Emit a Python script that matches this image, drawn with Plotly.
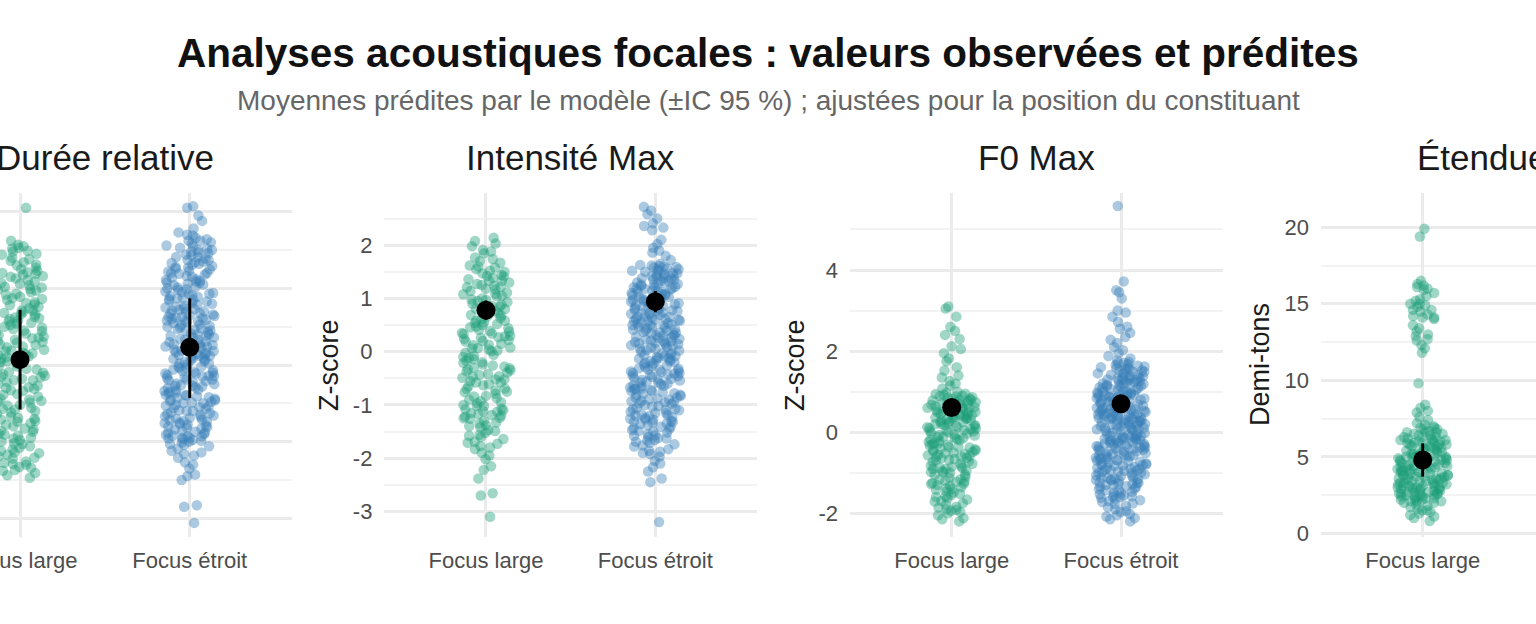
import plotly.graph_objects as go

# --- data ---
groups = ["Focus large", "Focus étroit"]
panel_titles = ["Durée relative", "Intensité Max", "F0 Max", "Étendue F0"]
y_titles = [None, "Z-score", "Z-score", "Demi-tons"]

dur_large = [0.42, -0.87, 1.21, 0.05, -1.33, 0.66, -0.18, 1.48, -0.64, 0.29, 0.93, -1.02, 0.11, -0.41, 1.57,
             0.74, -1.19, 0.36, -0.05, 1.09, -0.78, 0.52, -1.41, 0.18, 0.87, -0.29, 1.34, -0.95, 0.61, -0.12,
             1.62, -0.56, 0.24, -1.26, 0.98, 0.47, -0.71, 1.15, -0.34, 0.08, -1.47, 0.79, -0.9, 1.38, 0.33,
             -0.2, 0.69, -1.1, 1.02, -0.47, 0.14, 1.53, -0.83, 0.57, -1.37, 0.26, -0.01, 1.27, -0.6, 0.85,
             -1.15, 0.39, -0.25, 1.44, -0.98, 0.71, 0.02, -0.52, 1.18, -1.29, 0.49, -0.14, 0.95, -0.74, 1.31,
             0.2, -1.06, 0.63, -0.38, 1.06, -0.67, 0.31, 2.05, -1.22, 0.81, -0.09, 1.52, -0.44, 0.54, -0.92,
             1.25, 0.16, -1.44, 0.76, -0.31, 1.11, -0.8, 0.44, -0.02, 1.4, -1.0, 0.6, -0.57, 0.89, -1.3, 0.1,
             1.2, -0.22, 0.68, -0.7, 1.55, -1.12, 0.35, -0.49, 0.97, -0.16, -1.38,
             0.58, -0.33, 1.07, -0.91, 0.23, 1.36, -0.62, 0.04, -1.17, 0.82, 0.37, -0.45, 1.23, -0.06, -1.28,
             0.71, 0.15, -0.76, 1.45, -0.27, 0.5, -1.03, 0.92, -0.15, 0.3, -0.69, 1.16, -1.21, 0.62, -0.39,
             1.01, 0.09, -0.86, 1.3, -0.53, 0.41, -1.08, 0.78, -0.2, 0.19, -0.96, 1.13, 0.55, -0.58, 1.49,
             -0.1, -1.34, 0.86, 0.27, -0.73, 1.04, -0.3, 0.66, -1.14, 0.13, 1.19, -0.48, 0.45, -0.84, 0.99]
dur_narrow = [0.31, -0.62, 1.14, 0.02, -0.95, 0.77, -0.27, 1.52, -0.48, 0.43, 0.98, -0.81, 0.17, -0.36, 1.66,
              0.69, -1.03, 0.38, -0.08, 1.27, -0.71, 0.58, -1.21, 0.22, 0.89, -0.19, 1.41, -0.88, 0.64, -0.02,
              1.73, -0.53, 0.28, -1.12, 1.05, 0.5, -0.66, 1.19, -0.3, 0.12, -1.35, 0.83, -0.77, 1.47, 0.36,
              -0.13, 0.72, -0.99, 1.08, -0.42, 0.19, 1.59, -0.74, 0.6, -1.27, 0.25, 0.05, 1.33, -0.57, 0.91,
              -1.06, 0.46, -0.22, 1.5, -0.92, 0.75, 0.08, -0.45, 1.22, -1.16, 0.53, -0.1, 1.0, -0.68, 1.37,
              0.27, -0.96, 0.67, -0.33, 1.1, -0.59, 0.34, 1.95, -1.43, 0.85, -0.04, 1.62, -0.39, 0.56, -0.86,
              1.29, 0.14, -1.5, 0.8, -0.24, 1.16, -0.73, 0.48, 0.01, 1.44, -0.9, 0.63, -0.5, 0.94, -1.09, 0.11,
              1.25, -0.16, 0.71, -0.64, 1.56, -1.0, 0.4, -0.43, 1.02, -0.11, 2.07, 0.33, -0.79, 1.12, 0.07,
              -0.55, 0.79, -0.28, 1.39, -0.84, 0.52, -0.06, 1.7, -0.47, 0.21, -1.18, 0.96, 0.45, -0.69, 1.31,
              -0.35, 0.15, -1.83, 0.87, -0.97, 1.46, 0.3, -0.2, 0.66, -1.01, 1.06, -0.4, 0.24, 1.64, -0.76,
              0.57, -1.3, 0.18, 0.04, 1.35, -0.6, 0.93, -1.14, 0.41, -0.26, 1.53, -0.93, 0.73, 0.09, -0.52,
              2.05, -2.06, 1.88, -1.85, 1.78, -1.45, 1.2, -0.14, 0.61, -0.83,
              0.47, -0.29, 1.23, -0.7, 0.13, 0.86, -0.5, 1.48, -0.11, 0.36, -0.89, 1.04, 0.59, -0.37, 1.6,
              0.02, -0.63, 0.76, -0.17, 1.32, -0.98, 0.26, 0.95, -0.44, 1.15, -0.07, 0.51, -0.8, 1.41, 0.19,
              -0.56, 0.68, -0.25, 1.09, -0.91, 0.4, 1.55, -0.14, 0.84, -0.67, 0.1, 1.26, -0.32, 0.62, -1.04,
              0.93, 0.3, -0.46, 1.69, -0.02, 0.55, -0.75, 1.18, 0.16, -0.39, 0.99, -0.87, 0.44, 1.37, -0.21,
              0.7, -0.6, 0.06, 1.5, -0.34, 0.81, -0.95, 0.24, 1.07, -0.15, 0.63, -0.72, 1.28, 0.38, -0.49,
              0.9, -0.04, 1.62, -0.82, 0.49, 0.12, -0.27, 1.2, -0.65, 0.74, 1.43, -0.09, 0.33, -0.93, 1.01,
              0.57, -0.41, 1.34, -0.19, 0.87, -0.54, 0.2, 1.11, -0.78, 0.65]

int_large = [0.85, -1.24, 1.52, -0.33, 0.12, -1.71, 1.08, -0.79, 0.47, 1.91, -0.52, -1.38, 0.66, 1.33, -0.06,
             -1.02, 0.29, 1.74, -1.56, 0.93, -0.21, 0.54, -1.9, 1.21, -0.65, 0.02, 1.6, -1.13, 0.38, -0.44,
             2.08, -1.47, 0.77, -0.9, 1.42, 0.19, -0.28, -1.8, 1.0, -0.58, 0.61, 1.27, -1.3, -0.12, 0.44, 1.85,
             -0.97, -1.64, 0.24, 1.14, -0.39, 0.71, -1.19, 1.55, -0.73, 0.07, -2.02, 0.98, -0.49, 1.39, -1.07,
             0.33, -0.17, 1.67, -1.42, 0.58, -0.84, 1.24, -0.02, 2.14, -1.58, 0.81, -0.61, 0.15, 1.47, -1.26,
             -0.35, 0.9, -1.95, 1.11, 0.5, -0.76, 1.7, -1.1, 0.27, -0.24, 1.3, -1.52, 0.68, -0.93, 0.04, 1.98,
             -1.35, 0.41, -0.55, 1.17, -1.73, 0.86, -0.08, 1.58, -1.0, 0.35, -0.69, 1.36, -1.22, -0.3, 0.73,
             2.03, -2.15, -2.38, -2.22, -2.7, -2.66, -3.1, 0.95, -0.42, 1.05, -1.15, 0.2,
             0.39, -0.87, 1.25, -0.14, -1.49, 0.72, 0.08, -0.63, 1.62, -1.17, 0.52, -0.31, 1.04, -1.83, 0.26,
             -0.46, 1.41, -0.95, 0.63, 0.01, -1.33, 1.18, -0.7, 0.34, 1.77, -1.08, -0.2, 0.88, -1.6, 0.46,
             -0.52, 1.33, -1.25, 0.13, 0.97, -0.83, -1.69, 0.58, -0.37, 1.5, -1.02, 0.22, -0.1, 1.09, -1.4,
             0.69, -0.58, 1.88, -1.2, 0.3, -0.75, 1.22, -1.77, 0.8, -0.26, 0.06, -1.12, 1.44, -0.47, 0.55]
int_narrow = [1.12, -0.74, 0.35, -1.52, 1.48, -0.18, 0.82, -1.09, 0.05, 1.61, -0.61, -1.83, 0.57, 1.26, -0.4,
              -1.27, 0.23, 1.04, -0.92, 0.69, -0.06, 1.39, -1.66, 0.44, -0.31, 0.96, -1.18, 1.55, -0.53, 0.13,
              -1.41, 0.77, 1.19, -0.83, 0.31, -0.12, 1.33, -1.02, 0.62, -1.74, 0.9, -0.47, 1.6, -0.22, 0.17,
              -1.33, 1.08, -0.67, 0.49, -1.92, 1.43, 0.02, -0.88, 0.74, -0.36, 1.22, -1.21, 0.39, -0.58, 1.52,
              -1.47, 0.85, -0.1, 0.28, -1.06, 1.15, -0.79, 0.6, -1.6, 1.36, -0.27, 0.09, -0.97, 0.99, -0.44,
              1.65, -1.3, 0.53, -0.7, 1.28, -0.15, 0.2, -1.86, 0.8, -0.51, 1.47, -1.13, 0.37, -0.02, 1.02, -0.86,
              0.66, -1.38, 1.58, -0.34, 0.12, -1.69, 0.93, -0.63, 1.24, -1.0, 0.46, -0.2, 1.41, -1.55, 0.71,
              -0.41, 0.06, -1.24, 1.1, -0.76, 0.55, -1.78, 1.5, -0.08, 0.3, -0.95, 0.88, -0.56, 1.3, -1.44, 0.42,
              -0.26, 1.63, -1.15, 0.64, -0.69, 0.16, -1.97, 1.18, -0.38, 0.78, -1.35, 1.45, -0.13, 0.26, -0.9,
              1.06, -0.6, 0.5, -1.62, 1.37, 0.0, -1.08, 0.73, -0.46, 1.56, -1.26, 0.34, 1.72, 1.8, 1.86, 1.95,
              2.02, 2.1, 2.28, 2.33, 2.41, 2.58, 2.65, 2.72, 2.5, 2.36, 1.9, -2.05, -2.1, -2.17, -2.25, -2.45,
              -2.38, -3.2, 0.97, -0.32, 1.21, -0.81, 0.58, -1.49,
              0.41, -1.1, 1.33, -0.49, 0.16, -1.57, 0.94, -0.21, 0.65, -1.32, 1.18, -0.72, 0.03, 1.52, -0.93,
              0.32, -1.71, 0.79, -0.37, 1.27, -1.19, 0.51, -0.05, 1.06, -1.45, 0.24, -0.64, 1.42, -0.86, 0.7,
              -1.88, 0.11, 1.13, -0.54, 0.87, -1.28, 0.36, -0.16, 1.59, -1.03, 0.58, -0.78, 0.19, 1.35, -1.63,
              0.47, -0.29, 1.0, -1.15, 0.76, -0.45, 1.21, -0.98, 0.27, -1.76, 0.91, -0.12, 1.47, -0.69, 0.08,
              -1.36, 0.62, -0.33, 1.09, -1.5, 0.83, -0.58, 1.3, -0.9, 0.4, -0.03, 1.55, -1.23, 0.54, -0.81,
              1.17, -1.9, 0.21, 0.97, -0.4, 1.38, -1.07, 0.66, -0.24, 0.14, -1.41, 1.25, -0.65, 0.45, -1.67,
              0.86, -0.18, 1.62, -0.95, 0.31, -0.52, 1.03, -1.2, 0.72, -0.08, 1.44, -0.74, 0.5, -1.31, 0.18,
              1.14, -0.43, 0.6, -1.58, 0.89]

f0_large = [3.1, 3.05, 2.85, 2.6, 2.5, 2.4, 2.3, 2.12, 2.05, 1.95, 1.82, 1.75, 1.6, 1.52, 1.4, 1.35, 1.26,
            1.2, 1.15, 1.08, 0.95, -0.42, 0.31, -1.27, 0.66, -0.08, -0.85, 0.12, -1.6, 0.78, -0.3, 0.45, -1.05,
            0.02, -0.63, 0.88, -1.91, 0.22, -0.17, 0.57, -1.38, -0.52, 0.71, -0.95, 0.35, -0.24, -1.75, 0.09,
            0.83, -0.69, -1.16, 0.49, -0.36, 0.18, -2.05, 0.62, -0.78, -0.02, 0.92, -1.48, 0.27, -0.47, -1.0,
            0.74, -0.13, 0.4, -1.66, -0.58, 0.53, -0.9, 0.05, -1.22, 0.85, -0.33, 0.15, -1.84, 0.68, -0.73,
            -0.06, 0.37, -1.33, 0.59, -0.45, -2.15, 0.25, -0.98, 0.8, -0.2, -1.55, 0.44, -0.61, 0.07, -1.1,
            0.97, -0.27, 0.3, -1.94, -0.82, 0.51, -0.11, -1.42, 0.7, -0.5, 0.2, -1.2, 0.9, -0.38, -2.2, 0.6,
            -0.66, 0.0, -1.7, 0.42, -0.88, 0.76, -0.15, -1.28, 0.33, -0.55, -1.97, 1.0,
            0.46, -0.91, 0.15, -1.52, 0.73, -0.36, -1.12, 0.29, -0.68, 0.86, -1.78, 0.04, -0.49, 0.61, -1.25,
            -0.18, 0.39, -2.0, 0.8, -0.77, -0.03, -1.4, 0.54, -0.57, 0.2, -1.63, 0.94, -0.26, -1.05, 0.34,
            -0.84, 0.1, -1.9, 0.67, -0.41, -1.3, 0.48, -0.12, -0.96, 0.77, -1.58, 0.25, -0.64, -2.12, 0.57,
            -0.31, -1.17, 0.03, 0.89, -0.72, -1.46, 0.41, -0.07, -0.99, 0.64, -1.71, 0.17, -0.53, -1.35, 0.82,
            -0.22, -0.87, 0.36, -1.22, 0.72, -0.44, -1.86, 0.12, -0.6, 0.5]
f0_narrow = [0.44, -1.12, 1.27, -0.36, 0.05, -1.68, 0.91, -0.63, 0.22, 1.58, -0.88, -0.14, 0.7, -1.35, 1.09,
             -0.47, 0.33, -1.9, 0.84, -0.22, 1.42, -1.01, 0.12, -0.57, 1.71, -1.5, 0.6, -0.3, 0.98, -1.24, 0.27,
             -0.79, 1.19, -0.05, -2.08, 0.53, 1.35, -0.7, 0.17, -1.43, 0.87, -0.4, 1.64, -0.95, 0.39, -0.18,
             1.04, -1.77, 0.65, -0.52, 1.3, -1.16, 0.09, -0.83, 1.52, -0.26, 0.48, -1.58, 0.78, -0.1, 1.14,
             -1.3, 0.3, -0.67, 1.77, -0.98, 0.57, -0.34, 0.94, -2.15, 0.2, -0.6, 1.23, -1.07, 0.42, -0.2, 1.46,
             -1.62, 0.73, -0.45, 0.02, -1.2, 1.0, -0.75, 0.36, 1.6, -1.4, 0.15, -0.9, 1.17, -0.12, 0.62, -1.85,
             0.82, -0.54, 1.38, -1.04, 0.25, -0.29, 1.68, -1.28, 0.5, -0.72, 0.96, -0.02, -1.55, 1.26, -0.38,
             0.68, -1.97, 0.07, 1.5, -0.86, 0.45, -0.16, 1.07, -1.18, 0.34, -0.64, 1.33, -1.7, 0.58, -0.24,
             0.88, -1.0, 0.19, 1.73, -0.49, -1.36, 0.76, -0.08, 1.12, -0.8, 0.4, -2.02, 0.6, -0.33, 1.45, -1.12,
             0.11, -0.59, 0.92, -1.47, 1.2, -0.42, 0.28, -0.93, 1.56, -0.19, 0.54, -1.25, 0.8, -0.68, -2.2,
             1.02, -0.04, 0.38, -1.6, 1.3, -0.77, 1.82, 1.88, 1.95, 2.02, 2.1, 2.2, 2.28, 2.35, 2.45, 2.55, 2.6,
             2.72, 2.85, 2.95, 3.0, 3.45, 3.5, 3.3, 3.72, 5.58,
             0.52, -0.94, 1.35, -0.28, 0.11, -1.49, 0.97, -0.61, 0.31, 1.62, -1.17, -0.09, 0.79, -1.72, 1.2,
             -0.4, 0.43, -1.3, 0.88, -0.17, 1.49, -0.82, 0.07, -1.95, 0.65, -0.53, 1.11, -1.06, 0.35, -0.25,
             1.7, -0.7, 0.58, -1.39, 0.22, 1.28, -0.88, 0.47, -0.06, 1.04, -1.6, 0.74, -0.37, 1.41, -1.12,
             0.16, -0.78, 0.92, -2.05, 0.29, 1.56, -0.46, 0.69, -1.24, 0.03, 1.16, -0.97, 0.55, -0.14, 1.33,
             -1.53, 0.83, -0.58, 0.38, -1.82, 1.0, -0.31, 0.6, -1.08, 1.45, -0.2, 0.18, -0.73, 1.24, -1.33,
             0.49, -0.01, 1.66, -0.9, 0.71, -1.65, 0.27, -0.43, 1.08, -1.18, 0.84, -0.11, 1.39, -0.66, 0.4,
             -1.44, 0.95, -0.26, 1.19, -2.12, 0.62, -0.81, 0.14, 1.52, -1.0, 0.46, -0.35, 0.9, -1.27, 1.3,
             -0.55, 0.24, -1.76, 0.77, 0.06, -0.92, 1.14, -0.48, 0.57, -1.15, 1.6, -0.17, 0.33, -1.56, 0.86]

etd_large = [4.2, 2.9, 5.6, 3.4, 6.3, 1.8, 4.8, 3.1, 5.2, 2.4, 6.8, 3.8, 4.5, 1.2, 5.9, 2.7, 4.0, 6.1, 3.3, 5.0,
             2.1, 4.7, 3.6, 6.5, 2.5, 5.4, 3.0, 4.3, 1.5, 6.0, 3.9, 4.9, 2.2, 5.7, 3.5, 7.0, 2.8, 4.4, 1.0, 5.3,
             3.2, 6.6, 2.6, 4.1, 5.8, 3.7, 2.0, 6.2, 4.6, 2.3, 5.1, 3.4, 6.9, 2.9, 4.0, 1.4, 5.5, 3.1, 6.4, 2.4,
             4.8, 3.8, 5.9, 2.7, 7.2, 4.3, 1.7, 5.2, 3.3, 6.1, 2.5, 4.5, 3.0, 6.7, 0.8, 5.6, 3.6, 4.2, 2.2, 6.3,
             3.9, 5.0, 2.6, 7.4, 4.7, 1.1, 5.4, 3.2, 6.0, 2.8, 4.4, 3.7, 5.8, 2.1, 6.6, 4.9, 7.6, 7.9, 8.2, 8.4,
             8.0, 9.8, 11.8, 12.3, 12.1, 12.7, 12.9, 13.2, 13.0, 13.6, 14.0, 14.1, 14.1, 14.3, 14.5, 14.6, 14.6,
             14.9, 15.0, 15.0, 15.2, 15.5, 15.7, 15.9, 16.1, 16.3, 16.2, 16.5, 14.2, 14.8, 13.4, 15.3, 12.6,
             16.0, 19.4, 19.9,
             3.5, 5.1, 2.6, 4.6, 6.2, 3.0, 5.7, 2.3, 4.1, 6.5, 3.8, 2.0, 5.3, 4.4, 2.9, 6.0, 3.3, 4.9, 1.6, 5.5,
             3.6, 2.5, 4.7, 6.8, 3.1, 5.0, 2.2, 4.2, 5.9, 3.9, 1.3, 4.5, 6.3, 2.8, 5.2, 3.4, 4.0, 2.4, 5.8, 3.7,
             6.6, 2.7, 4.8, 3.2, 5.4, 1.9, 4.3, 6.1, 3.0, 5.6, 2.1, 4.6, 3.5, 6.9, 2.6, 5.0, 3.8, 4.1, 1.5, 5.3,
             3.3, 6.4, 2.9, 4.9, 3.6, 5.7, 2.3, 4.4, 7.1, 3.1]

# model predictions (mean, lower, upper) per panel, per group
pred_mean = [[0.07, 0.23], [0.78, 0.94], [0.61, 0.70], [4.79]]
pred_low = [[-0.58, -0.43], [0.60, 0.74], [0.47, 0.57], [3.70]]
pred_high = [[0.72, 0.87], [0.96, 1.14], [0.75, 0.83], [5.88]]

raw = [[dur_large, dur_narrow], [int_large, int_narrow], [f0_large, f0_narrow], [etd_large]]

y_ticks = [[-2, -1, 0, 1, 2], [-3, -2, -1, 0, 1, 2], [-2, 0, 2, 4], [0, 5, 10, 15, 20]]
y_minor = [0.5, 0.5, 1, 2.5]
y_ranges = [[-2.244, 2.244], [-3.48, 2.98], [-2.585, 5.9], [-0.24, 22.24]]

# --- layout geometry (px in a 1536 x 624 canvas) ---
W, H = 1536, 624
colors = ["#1B9E77", "#377EB8"]
font = "Liberation Sans, Arial, sans-serif"
x_dom = [[0, 291.6 / W], [384.4 / W, 756.9 / W], [850.1 / W, 1222.6 / W], [1321.1 / W, 1.0]]
x_ranges = [[-0.118, 1.6], [-0.6, 1.6], [-0.6, 1.6], [-0.6, 0.669]]
y_dom = [1 - 537 / H, 1 - 193 / H]
ytitle_x = [None, 329, 795, 1260]

fig = go.Figure()
annotations = []

for p in range(4):
    xa = "x" if p == 0 else "x%d" % (p + 1)
    ya = "y" if p == 0 else "y%d" % (p + 1)
    for g, vals in enumerate(raw[p]):
        fig.add_trace(go.Box(
            x=[groups[g]] * len(vals), y=vals, xaxis=xa, yaxis=ya,
            boxpoints="all", jitter=1, pointpos=0, width=0.3,
            line=dict(width=0), fillcolor="rgba(0,0,0,0)", whiskerwidth=0,
            marker=dict(color=colors[g], size=10.5, opacity=0.42, line=dict(width=0)),
            hoverinfo="skip", showlegend=False))
    n = len(pred_mean[p])
    fig.add_trace(go.Scatter(
        x=groups[:n], y=pred_mean[p], xaxis=xa, yaxis=ya, mode="markers",
        marker=dict(color="black", size=19),
        error_y=dict(type="data", symmetric=False,
                     array=[pred_high[p][i] - pred_mean[p][i] for i in range(n)],
                     arrayminus=[pred_mean[p][i] - pred_low[p][i] for i in range(n)],
                     color="black", thickness=3, width=0),
        hoverinfo="skip", showlegend=False))

    ticktext = [str(v) for v in y_ticks[p]]
    xkey = "xaxis" if p == 0 else "xaxis%d" % (p + 1)
    ykey = "yaxis" if p == 0 else "yaxis%d" % (p + 1)
    fig.update_layout({
        xkey: dict(domain=x_dom[p], anchor=ya, type="category", categoryorder="array",
                   categoryarray=groups, range=x_ranges[p], showgrid=True, gridcolor="#ebebeb",
                   gridwidth=2.5, zeroline=False, showline=False, ticks="", ticklabelstandoff=8,
                   automargin=False, tickfont=dict(family=font, size=22, color="#4d4d4d")),
        ykey: dict(domain=y_dom, anchor=xa, range=y_ranges[p], tickvals=y_ticks[p], ticktext=ticktext,
                   showgrid=True, gridcolor="#ebebeb", gridwidth=2.5, zeroline=False, showline=False,
                   ticks="", ticklabelstandoff=11, showticklabels=(p != 0), automargin=False,
                   tickfont=dict(family=font, size=22, color="#4d4d4d"),
                   minor=dict(dtick=y_minor[p], tick0=0, showgrid=True, gridcolor="#f3f3f3", gridwidth=1.5)),
    })

    # panel title, centred on the panel
    d0, d1 = x_dom[p]
    r0, r1 = x_ranges[p]
    left = d0 - (r0 + 0.6) / (r1 - r0) * (d1 - d0)
    right = d0 + (1.6 - r0) / (r1 - r0) * (d1 - d0)
    annotations.append(dict(text=panel_titles[p], x=(left + right) / 2, y=1 - 157 / H, xref="paper",
                            yref="paper", xanchor="center", yanchor="middle", showarrow=False,
                            font=dict(family=font, size=35, color="#1a1a1a")))
    if y_titles[p]:
        annotations.append(dict(text=y_titles[p], x=ytitle_x[p] / W, y=1 - 365 / H, xref="paper",
                                yref="paper", xanchor="center", yanchor="middle", textangle=-90,
                                showarrow=False, font=dict(family=font, size=27, color="#1a1a1a")))

# second category of the last panel falls just past the right edge
d0, d1 = x_dom[3]
r0, r1 = x_ranges[3]
annotations.append(dict(text=groups[1], x=d0 + (1 - r0) / (r1 - r0) * (d1 - d0), y=1 - 559 / H,
                        xref="paper", yref="paper", xanchor="center", yanchor="middle", showarrow=False,
                        font=dict(family=font, size=22, color="#4d4d4d")))

annotations.append(dict(text="<b>Analyses acoustiques focales : valeurs observées et prédites</b>",
                        x=0.5, y=1 - 53 / H, xref="paper", yref="paper", xanchor="center",
                        yanchor="middle", showarrow=False, font=dict(family=font, size=40.5, color="#111111")))
annotations.append(dict(text="Moyennes prédites par le modèle (±IC 95 %) ; ajustées pour la position du constituant",
                        x=0.5, y=1 - 101 / H, xref="paper", yref="paper", xanchor="center",
                        yanchor="middle", showarrow=False, font=dict(family=font, size=28, color="#666666")))

fig.update_layout(width=W, height=H, margin=dict(l=0, r=0, t=0, b=0), paper_bgcolor="white",
                  plot_bgcolor="white", showlegend=False, boxmode="overlay", annotations=annotations)

# the page's default body margin would shift the figure by 8px
fig.write_html("out.html", config={"displayModeBar": False},
               post_script="document.body.style.margin = '0px';")
